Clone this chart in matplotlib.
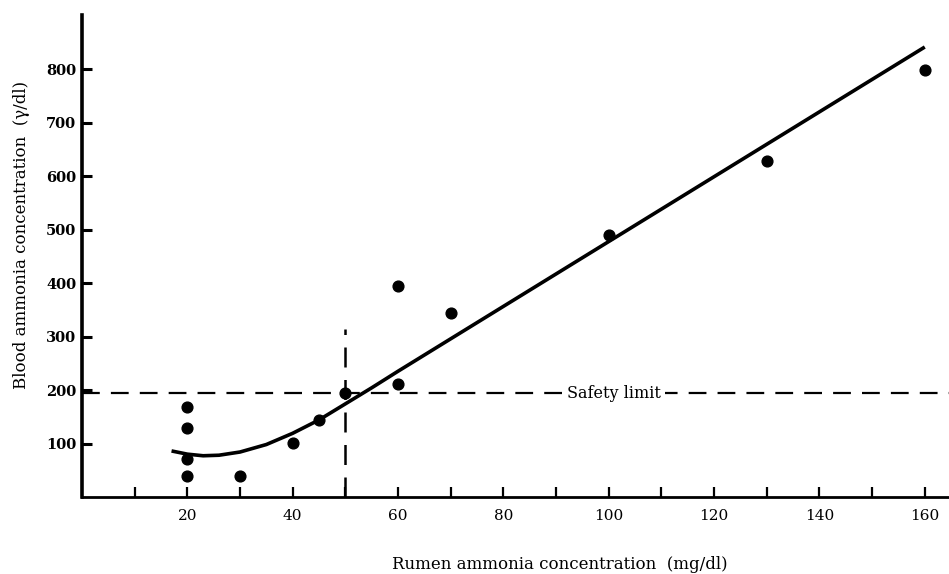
import matplotlib.pyplot as plt
import numpy as np

# observed points (rumen NH3 mg/dl, blood NH3 gamma/dl)
rumen = [20, 20, 20, 20, 30, 40, 45, 50, 60, 60, 70, 100, 130, 160]
blood = [170, 129, 72, 41, 41, 101, 145, 195, 395, 212, 345, 491, 629, 799]

# fitted curve
curve_x = [17, 20, 23, 26, 30, 35, 40, 45, 50, 55, 60, 160]
curve_y = [87, 81, 78, 79, 85, 99, 120, 145, 175, 205, 236, 842]

safety_limit = 195
safety_rumen = 50
safety_top = 315

xticks_major = [20, 40, 60, 80, 100, 120, 140, 160]
xticks_minor = [10, 30, 50, 70, 90, 110, 130, 150]
yticks = [100, 200, 300, 400, 500, 600, 700, 800]

plt.rcParams['font.family'] = ['DejaVu Serif']

fig = plt.figure(figsize=(9.49, 5.74), dpi=100)
ax = fig.add_axes([0.0864, 0.1333, 0.9136, 0.8407])

ax.plot(curve_x, curve_y, color='black', lw=2.6, solid_capstyle='butt')
ax.scatter(rumen, blood, s=60, color='black', zorder=3)

ax.axhline(safety_limit, color='black', lw=1.6, dashes=(8, 5))
ax.plot([safety_rumen, safety_rumen], [0, safety_top], color='black', lw=1.8, dashes=(8, 5))
ax.text(101, safety_limit, 'Safety limit', ha='center', va='center', fontsize=11.5,
        bbox=dict(facecolor='white', edgecolor='none', pad=3))

ax.set_xlim(0, 164.6)
ax.set_ylim(0, 902)

ax.spines['top'].set_visible(False)
ax.spines['right'].set_visible(False)
ax.spines['left'].set_linewidth(2.6)
ax.spines['bottom'].set_linewidth(2)

ax.set_xticks(xticks_major)
ax.set_xticks(xticks_minor, minor=True)
ax.set_yticks(yticks)
ax.tick_params(axis='x', which='both', direction='in', length=7, width=1.6, labelsize=11, pad=8)
ax.tick_params(axis='y', direction='in', length=7, width=2.2, labelsize=10.5, pad=4)
for lab in ax.get_yticklabels():
    lab.set_fontweight('bold')

ax.set_xlabel('Rumen ammonia concentration  (mg/dl)', fontsize=12, labelpad=24)
ax.set_ylabel('Blood ammonia concentration  (\u03b3/dl)', fontsize=12, labelpad=12)
ax.xaxis.label.set_x(0.551)
ax.yaxis.label.set_y(0.544)

fig.savefig('out.png', dpi=100)
